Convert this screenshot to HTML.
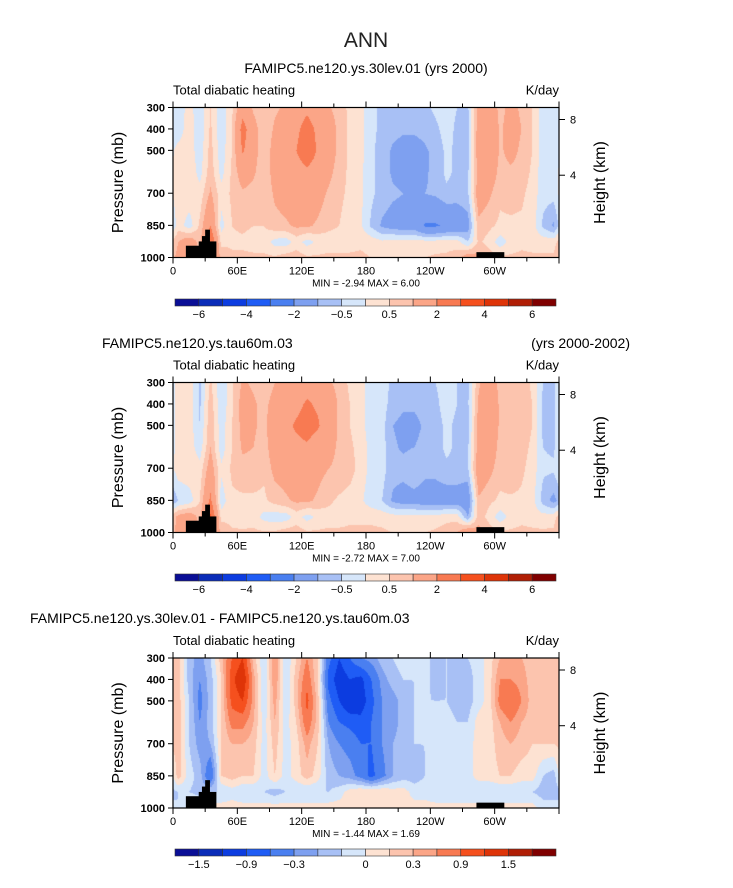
<!DOCTYPE html>
<html><head><meta charset="utf-8">
<style>
html,body{margin:0;padding:0;background:#fff;}
#root{position:relative;width:733px;height:888px;overflow:hidden;font-family:"Liberation Sans",sans-serif;}
canvas{position:absolute;}
svg{position:absolute;left:0;top:0;}
</style></head>
<body>
<div id="root">
<canvas id="c1" width="386" height="150" style="left:173px;top:107.5px"></canvas>
<canvas id="c2" width="386" height="150" style="left:173px;top:382.5px"></canvas>
<canvas id="c3" width="386" height="150" style="left:173px;top:658px"></canvas>
<svg id="svg" width="733" height="888"></svg>
</div>
<script>
const lonCenters=[5,15,25,35,45,55,65,75,85,95,105,115,125,135,145,155,165,175,185,195,205,215,225,235,245,255,265,275,285,295,305,315,325,335,345,355];
const pLevels=[300,400,500,600,700,850,925,1000];
const p1=[
[-0.3,0.2,-0.3,0.5,-0.3,0.4,1.6,0.9,0.5,0.9,1.1,1.5,1.8,1.5,1.1,0.7,0.4,0.2,-0.4,-0.6,-0.6,-0.6,-0.6,-0.6,-0.4,-0.3,-0.5,-0.6,1.2,1.6,0.8,1.2,0.9,0.5,-0.3,-0.3],
[-0.3,0.3,-0.4,0.6,-0.4,0.5,2.4,1.3,0.6,1.1,1.4,1.8,2.4,1.8,1.5,0.8,0.4,0.2,-0.4,-0.6,-0.8,-0.9,-0.9,-0.8,-0.6,-0.3,-0.6,-0.7,1.4,1.8,0.9,1.3,1.0,0.5,-0.3,-0.3],
[0.2,0.3,-0.3,0.7,-0.3,0.5,2.1,1.3,0.6,1.3,1.5,2.0,2.6,1.9,1.5,0.8,0.4,0.2,-0.4,-0.7,-1.1,-1.3,-1.3,-1.1,-0.8,-0.4,-0.6,-0.7,1.5,1.8,0.9,1.2,0.9,0.5,-0.3,-0.3],
[0.4,0.4,-0.2,0.8,-0.2,0.6,1.4,1.1,0.6,1.3,1.5,1.6,1.8,1.6,1.2,0.7,0.4,0.1,-0.4,-0.7,-1.1,-1.2,-1.3,-1.1,-0.8,-0.4,-0.6,-0.6,1.2,1.5,0.8,0.9,0.8,0.4,-0.3,-0.3],
[0.4,0.4,0.2,1.1,0.2,0.6,0.9,0.8,0.6,1.1,1.3,1.4,1.4,1.3,0.9,0.6,0.4,0.1,-0.4,-0.7,-0.9,-1.0,-1.1,-1.0,-0.9,-0.6,-0.7,-0.6,1.5,1.1,0.6,0.7,0.6,0.3,-0.3,-0.3],
[0.3,-0.3,0.6,2.0,-0.2,0.5,0.6,0.5,0.5,0.8,0.9,1.1,1.1,0.9,0.6,0.5,0.3,0.1,-0.6,-1.1,-1.3,-1.4,-1.4,-2.1,-2.1,-1.9,-1.7,-1.3,0.8,0.6,0.4,0.4,0.4,0.3,-0.6,-1.1],
[1.0,1.5,0.8,3.0,0.3,0.4,0.4,0.3,0.3,-0.2,-0.3,0.2,-0.2,0.1,0.3,0.3,0.3,0.4,0.3,0.1,0.2,0.2,0.2,0.2,0.2,0.3,0.2,-0.5,0.6,0.3,-0.3,0.2,0.4,0.3,0.3,0.3],
[1.2,1.2,1.0,1.5,1.0,0.6,0.6,0.6,0.6,0.6,0.8,0.8,0.6,0.6,0.6,0.6,0.6,0.6,0.5,0.5,0.5,0.5,0.5,0.5,0.6,0.6,0.8,1.5,1.2,0.8,0.6,0.6,0.6,0.6,0.6,0.6]];
const p2=[
[0.3,0.3,-0.6,0.6,-0.4,0.4,1.1,0.9,0.6,1.0,1.2,1.5,1.7,1.6,1.1,0.8,0.4,0.2,-0.3,-0.3,-0.6,-0.7,-0.7,-0.6,-0.5,-0.3,-0.5,-0.6,0.9,1.5,0.8,0.9,0.8,0.4,-0.5,-0.6],
[0.3,0.3,-0.6,0.8,-0.4,0.4,1.3,1.1,0.8,1.3,1.6,1.8,2.1,1.9,1.5,0.9,0.5,0.2,-0.3,-0.3,-0.7,-0.9,-0.9,-0.7,-0.6,-0.3,-0.5,-0.6,1.1,1.6,0.9,1.0,0.9,0.5,-0.6,-0.6],
[0.3,0.3,-0.5,0.9,-0.3,0.5,1.2,1.1,0.8,1.6,1.8,2.1,2.3,2.1,1.5,0.9,0.5,0.2,-0.3,-0.3,-1.0,-1.2,-1.2,-0.9,-0.7,-0.4,-0.6,-0.7,1.3,1.6,0.9,0.9,0.8,0.5,-0.6,-0.6],
[0.3,0.3,-0.3,1.0,-0.3,0.5,1.1,1.0,0.7,1.5,1.6,1.8,1.9,1.6,1.2,0.9,0.6,0.3,-0.2,-0.3,-0.9,-1.1,-1.0,-0.8,-0.7,-0.4,-0.6,-0.6,1.3,1.5,0.8,0.8,0.7,0.4,-0.5,-0.6],
[0.3,0.4,0.2,1.4,0.1,0.6,0.8,0.8,0.6,1.2,1.3,1.5,1.5,1.2,1.0,0.9,0.7,0.3,-0.2,-0.3,-0.8,-0.8,-0.5,-0.8,-0.8,-0.6,-0.6,-0.6,1.6,1.2,0.7,0.9,0.6,0.3,-0.4,-0.4],
[-0.5,-0.3,0.5,2.2,-0.3,0.4,0.4,0.4,0.4,0.7,0.9,1.1,1.1,0.9,0.6,0.4,0.3,0.1,-0.3,-0.5,-1.1,-1.3,-1.3,-1.4,-1.4,-1.4,-1.4,-1.6,0.9,0.6,0.4,0.4,0.4,0.2,-0.7,-1.2],
[1.2,1.5,0.8,3.2,0.3,0.3,0.2,0.3,-0.2,-0.3,-0.3,0.2,-0.2,0.1,0.3,0.3,0.4,0.4,0.4,0.3,0.2,0.2,0.2,0.2,0.2,0.3,0.3,-1.0,0.8,0.3,-0.3,0.2,0.4,0.3,0.2,0.3],
[1.2,1.2,1.0,1.5,1.0,0.6,0.6,0.6,0.6,0.6,0.8,0.8,0.6,0.6,0.6,0.6,0.6,0.6,0.6,0.6,0.5,0.5,0.5,0.5,0.6,0.8,1.0,1.8,1.2,0.8,0.6,0.6,0.6,0.6,0.6,0.6]];
const p3=[
[0.3,-0.3,-0.5,-0.2,0.3,0.9,1.2,0.3,-0.2,0.6,-0.2,0.2,0.6,0.2,-0.8,-1.2,-0.9,-0.6,-0.5,-0.3,-0.2,-0.1,-0.2,-0.1,-0.3,-0.2,-0.3,-0.2,-0.1,0.1,0.4,0.5,0.4,0.3,0.3,0.3],
[0.3,-0.3,-0.6,-0.3,0.2,1.1,1.5,0.5,-0.2,0.6,-0.2,0.3,0.8,0.2,-1.0,-1.4,-1.2,-1.3,-0.9,-0.5,-0.3,-0.2,-0.2,-0.1,-0.3,-0.2,-0.3,-0.3,-0.1,0.1,0.6,0.6,0.5,0.3,0.3,0.3],
[0.3,-0.2,-0.7,-0.3,0.2,1.0,1.2,0.5,-0.2,0.5,-0.2,0.3,1.0,0.3,-0.8,-1.2,-1.5,-1.4,-1.0,-0.6,-0.5,-0.3,-0.2,-0.2,-0.2,-0.2,-0.3,-0.3,-0.1,0.1,0.7,0.9,0.6,0.3,0.3,0.3],
[0.3,-0.2,-0.6,-0.3,0.2,0.7,0.7,0.4,-0.1,0.4,-0.1,0.2,0.8,0.3,-0.6,-0.9,-1.0,-1.1,-0.9,-0.6,-0.5,-0.3,-0.2,-0.2,-0.2,-0.1,-0.2,-0.2,0.1,0.1,0.4,0.6,0.4,0.3,0.3,0.3],
[0.3,-0.2,-0.5,-0.4,0.2,0.4,0.4,0.3,-0.1,0.3,-0.1,0.1,0.5,0.2,-0.4,-0.6,-0.7,-0.9,-0.9,-0.6,-0.4,-0.3,-0.2,-0.2,-0.2,-0.1,-0.2,-0.1,0.1,0.1,0.3,0.4,0.3,0.2,0.2,0.2],
[0.3,-0.1,-0.3,-0.9,0.2,0.3,0.2,0.2,-0.1,0.2,-0.1,0.1,0.3,0.1,-0.3,-0.4,-0.5,-0.7,-1.0,-0.7,-0.4,-0.3,-0.3,-0.2,-0.2,-0.2,-0.1,-0.1,0.1,0.1,0.2,0.2,0.1,0.1,-0.2,-0.3],
[-0.2,-0.2,-0.3,-0.2,-0.2,-0.1,-0.2,-0.2,-0.2,-0.3,-0.2,-0.2,-0.2,-0.2,-0.2,-0.1,0.1,0.2,0.2,0.2,0.1,0.1,-0.1,-0.1,-0.2,-0.2,-0.2,-0.2,-0.2,-0.2,-0.2,-0.2,-0.2,-0.2,-0.3,-0.3],
[-0.2,0.1,0.1,0.1,0.1,0.1,0.1,0.1,0.1,0.1,0.1,0.1,0.1,0.1,0.1,0.1,0.1,0.1,0.1,0.1,0.1,0.1,0.1,0.1,0.1,0.1,0.1,0.1,0.1,0.1,0.1,0.1,0.1,0.1,-0.1,-0.1]];
const levelsAbs=[-6,-5,-4,-3,-2,-1,-0.5,0,0.5,1,2,3,4,5,6];
const levelsDiff=[-1.8,-1.5,-1.2,-0.9,-0.6,-0.4,-0.2,0,0.2,0.4,0.6,0.9,1.2,1.5,1.8];
const labelsAbs=["-6","-4","-2","-0.5","0.5","2","4","6"];
const labelIdxAbs=[0,2,4,6,8,10,12,14];
const labelsDiff=["-1.5","-0.9","-0.3","0","0.3","0.9","1.5"];
const labelIdxDiff=[0,2,4,7,9,11,13];
const palette=["#0a0e96","#0a2cb8","#0c3ce0","#1f5cf5","#4a7ff0","#7ea0f0","#a8c0f5","#d6e6fa","#fde2d2","#fcc4ae","#fba587","#f87a52","#f5501e","#de3408","#b01e05","#800000"];
const xTickLon=[0,60,120,180,240,300];
const xTickLabels=["0","60E","120E","180","120W","60W"];
const yTickP=[300,400,500,700,850,1000];
const hTickKm=[8,4];
const hTickP=[356,616];
const topoLon=[12,24,27,30,34,40];
const topoP=[945,925,900,870,925];
const topo2Lon=[283,309];
const topo2P=[975];
const mins=["-2.94","-2.72","-1.44"], maxs=["6.00","7.00","1.69"];

const W=386;
function xOf(lon){return lon/360*W;}
function hexRGB(h){return [parseInt(h.substr(1,2),16),parseInt(h.substr(3,2),16),parseInt(h.substr(5,2),16)];}
const pal=palette.map(hexRGB);
function sample(data,lon,p){
  let f=(lon-5)/10; let i0=Math.floor(f); let t=f-i0;
  let a=((i0%36)+36)%36, b=(a+1)%36;
  let k=0; while(k<pLevels.length-2 && p>pLevels[k+1]) k++;
  let s=(p-pLevels[k])/(pLevels[k+1]-pLevels[k]); s=Math.max(0,Math.min(1,s));
  const v0=data[k][a]*(1-t)+data[k][b]*t, v1=data[k+1][a]*(1-t)+data[k+1][b]*t;
  return v0*(1-s)+v1*s;
}
function draw(id,data,levels){
  const c=document.getElementById(id),ctx=c.getContext('2d');
  const H=c.height,img=ctx.createImageData(W,H);
  for(let y=0;y<H;y++){const p=300+(y+0.5)/H*700;
    for(let x=0;x<W;x++){const v=sample(data,(x+0.5)/W*360,p)+0.001;
      let ci=0; while(ci<levels.length && v>levels[ci]) ci++;
      const col=pal[ci],o=(y*W+x)*4; img.data[o]=col[0];img.data[o+1]=col[1];img.data[o+2]=col[2];img.data[o+3]=255;}}
  ctx.putImageData(img,0,0);
}
draw('c1',p1,levelsAbs);draw('c2',p2,levelsAbs);draw('c3',p3,levelsDiff);

const NS="http://www.w3.org/2000/svg",svg=document.getElementById('svg');
function el(tag,attrs,txt){const e=document.createElementNS(NS,tag);for(const k in attrs)e.setAttribute(k,attrs[k]);if(txt!==undefined)e.textContent=txt;svg.appendChild(e);return e;}
let t=el('text',{x:366,y:47,'text-anchor':'middle','font-size':21,fill:'#222'},'ANN');



const panels=[{top:107.5,h:150,cb:299},{top:382.5,h:150,cb:574},{top:658,h:150,cb:849}];
const X0=173;
panels.forEach((P,pi)=>{
  const top=P.top,h=P.h,bot=top+h;
  function yOf(p){return top+(p-300)/700*h;}
  for(let i=0;i<topoP.length;i++){
    const r=el('rect',{x:X0+xOf(topoLon[i]),y:yOf(topoP[i]),width:xOf(topoLon[i+1])-xOf(topoLon[i])+0.5,height:bot-yOf(topoP[i]),fill:'#000'});
    
    
  }
  const r2=el('rect',{x:X0+xOf(topo2Lon[0]),y:yOf(topo2P[0]),width:xOf(topo2Lon[1])-xOf(topo2Lon[0]),height:bot-yOf(topo2P[0]),fill:'#000'});
  
  
  const fr=el('rect',{x:X0,y:top,width:W,height:h,fill:'none',stroke:'#000','stroke-width':1.2});
  
  
  for(let lon=0;lon<=360;lon+=30){
    const x=X0+xOf(lon),len=lon%60===0?6:4;
    el('line',{x1:x,y1:bot,x2:x,y2:bot+len,stroke:'#000'});
    el('line',{x1:x,y1:top,x2:x,y2:top-len,stroke:'#000'});
  }
  xTickLon.forEach((lon,i)=>{const tt=el('text',{x:X0+xOf(lon),y:bot+17,'text-anchor':'middle','font-size':11},xTickLabels[i]);
    
    });
  yTickP.forEach(p=>{const y=yOf(p);el('line',{x1:X0,y1:y,x2:X0-5,y2:y,stroke:'#000'});
    const tt=el('text',{x:X0-8,y:y+4,'text-anchor':'end','font-size':11,'font-weight':'bold'},String(p));
    
    });
  hTickKm.forEach((km,i)=>{const y=yOf(hTickP[i]);el('line',{x1:X0+W,y1:y,x2:X0+W+6,y2:y,stroke:'#000'});
    const tt=el('text',{x:X0+W+11,y:y+4,'font-size':11},String(km));
    
    });
  let a=el('text',{x:0,y:0,'text-anchor':'middle','font-size':16,transform:`translate(123,${top+h/2}) rotate(-90)`},'Pressure (mb)');
  
  
  a=el('text',{x:0,y:0,'text-anchor':'middle','font-size':16,transform:`translate(605,${top+h/2}) rotate(-90)`},'Height (km)');
  
  
  a=el('text',{x:X0,y:top-13,'font-size':13},'Total diabatic heating');
  
  
  a=el('text',{x:X0+W,y:top-13,'text-anchor':'end','font-size':13},'K/day');
  
  
  a=el('text',{x:366,y:bot+29,'text-anchor':'middle','font-size':10,'xml:space':'preserve'},'MIN =  '+mins[pi]+'   MAX =     '+maxs[pi]);
  
  
  const cbx=175,cbw=381,bw=cbw/16;
  for(let i=0;i<16;i++){const b=el('rect',{x:cbx+i*bw,y:P.cb,width:bw,height:7,fill:palette[i],stroke:'#333','stroke-width':0.6});
    
    }
  const labs=pi<2?labelsAbs:labelsDiff, idx=pi<2?labelIdxAbs:labelIdxDiff;
  labs.forEach((l,i)=>{const tt=el('text',{x:cbx+(idx[i]+1)*bw,y:P.cb+19,'text-anchor':'middle','font-size':11},l.replace('-','\u2212'));
    
    });
});
t=el('text',{x:366,y:73,'text-anchor':'middle','font-size':14},'FAMIPC5.ne120.ys.30lev.01 (yrs 2000)');


t=el('text',{x:102,y:348,'font-size':14},'FAMIPC5.ne120.ys.tau60m.03');


t=el('text',{x:630,y:348,'text-anchor':'end','font-size':14},'(yrs 2000-2002)');


t=el('text',{x:30,y:623,'font-size':14},'FAMIPC5.ne120.ys.30lev.01 - FAMIPC5.ne120.ys.tau60m.03');


</script>
</body></html>
